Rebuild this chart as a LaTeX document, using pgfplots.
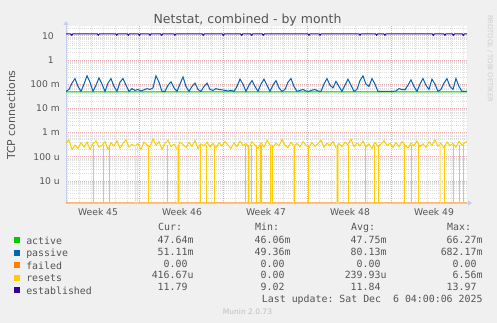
\documentclass[border=0pt]{standalone}
\usepackage{pgfplots}
\pgfplotsset{compat=1.18}
\usepackage{fontspec}
\setmainfont{DejaVu Sans}
\setmonofont{DejaVu Sans Mono}
\usetikzlibrary{arrows.meta}
\definecolor{bgc}{HTML}{F0F0F0}
\definecolor{txt}{HTML}{555555}
\definecolor{cact}{HTML}{00CC00}
\definecolor{cpas}{HTML}{0066B3}
\definecolor{cfail}{HTML}{FF8000}
\definecolor{cres}{HTML}{FFCC00}
\definecolor{cest}{HTML}{330099}
\definecolor{mgrid}{HTML}{E8B0B0}
\definecolor{ngrid}{HTML}{DEDEDE}
\definecolor{axc}{HTML}{C4CCF0}
\newcommand\lf{\ttfamily\fontsize{9.9bp}{11bp}\selectfont}
\newcommand\tf{\fontsize{9.2bp}{10bp}\selectfont}
\begin{document}
\begin{tikzpicture}
\useasboundingbox (0,0) rectangle (497bp,323bp);
\fill[bgc] (0,0) rectangle (497bp,323bp);
\begin{axis}[
  at={(66bp,120bp)}, anchor=south west,
  scale only axis, width=401bp, height=177bp,
  xmin=0, xmax=33.42, ymode=log, ymin=1.22e-6, ymax=25.2,
  log origin y=infty,
  axis background/.style={fill=white},
  axis line style={draw=none},
  tick style={draw=none},
  clip mode=individual,
  xtick={2.67,9.67,16.67,23.67,30.67},
  xticklabels={Week 45,Week 46,Week 47,Week 48,Week 49},
  minor xtick={0.08,1.08,2.08,3.08,4.08,5.08,7.08,8.08,9.08,10.08,11.08,12.08,14.08,15.08,16.08,17.08,18.08,19.08,21.08,22.08,23.08,24.08,25.08,26.08,28.08,29.08,30.08,31.08,32.08,33.08},
  xminorgrids=true, xmajorgrids=false,
  extra x ticks={6.08,13.08,20.08,27.08}, extra x tick labels={},
  extra x tick style={grid=major},
  ytick={1e-5,1e-4,1e-3,1e-2,1e-1,1,10},
  yticklabels={10 u,100 u,1 m,10 m,100 m,1\hspace*{6bp},10\hspace*{6bp}},
  minor ytick={2e-6,3e-6,4e-6,5e-6,6e-6,7e-6,8e-6,9e-6,2e-5,3e-5,4e-5,5e-5,6e-5,7e-5,8e-5,9e-5,2e-4,3e-4,4e-4,5e-4,6e-4,7e-4,8e-4,9e-4,2e-3,3e-3,4e-3,5e-3,6e-3,7e-3,8e-3,9e-3,0.02,0.03,0.04,0.05,0.06,0.07,0.08,0.09,0.2,0.3,0.4,0.5,0.6,0.7,0.8,0.9,2,3,4,5,6,7,8,9,20},
  ymajorgrids=true, yminorgrids=true,
  major grid style={mgrid, dash pattern=on 1bp off 1bp, line width=0.7bp},
  minor grid style={ngrid, dash pattern=on 1bp off 1bp, line width=0.6bp},
  xticklabel style={font=\tf, text=txt, inner sep=0pt, anchor=north, yshift=-5.5bp},
  yticklabel style={font=\tf, text=txt, inner sep=0pt, anchor=east, xshift=-6bp},
  title={Netstat, combined - by month},
  every axis title/.style={at={(axis description cs:0.4526,1.0113)}, anchor=base, font=\fontsize{12.5bp}{14bp}\selectfont, text=txt, inner sep=0pt},
  ylabel={TCP connections},
  every axis y label/.style={at={(axis description cs:-0.137,0.497)}, rotate=90, anchor=center, font=\fontsize{10.9bp}{12bp}\selectfont, text=txt, inner sep=0pt},
  legend style={at={(axis description cs:-0.1297,-0.192)}, anchor=north west, draw=none, fill=none, inner sep=0pt, outer sep=0pt, font=\lf, text=txt, row sep=3.3bp, nodes={inner sep=0pt, text height=6.5bp, text depth=2bp}, /tikz/every odd column/.append style={column sep=6.3bp}},
  legend cell align=left,
  legend image code/.code={\fill[#1, draw=none, opacity=1] (0bp,-1bp) rectangle (6bp,5bp);},
]
\draw[axc, line width=1bp, -{Triangle[length=4bp,width=5bp]}] (rel axis cs:0,0) -- ([yshift=5bp]rel axis cs:0,1);
\draw[axc, line width=1bp, -{Triangle[length=4bp,width=5bp]}] (rel axis cs:0,0) -- ([xshift=5bp]rel axis cs:1,0);

\addplot[cact, line width=1bp] coordinates {(0,0.0476)(4,0.0477)(8,0.0475)(12,0.0477)(16,0.0476)(20,0.0476)(24,0.0477)(28,0.0476)(33.42,0.0476)};
\addlegendentry{active}

\addplot[cpas, line width=1bp] coordinates {(0,0.05)(0.25,0.06)(0.5,0.11)(0.75,0.17)(1,0.08)(1.25,0.05)(1.5,0.1)(1.75,0.22)(2,0.12)(2.25,0.05)(2.5,0.09)(2.75,0.18)(3,0.1)(3.25,0.05)(3.5,0.11)(3.75,0.17)(4,0.08)(4.25,0.05)(4.5,0.12)(4.75,0.17)(5,0.09)(5.25,0.05)(5.5,0.065)(5.75,0.055)(6,0.06)(6.25,0.052)(6.5,0.058)(6.75,0.065)(7,0.06)(7.25,0.07)(7.5,0.22)(7.75,0.12)(8,0.05)(8.25,0.05)(8.5,0.09)(8.75,0.125)(9,0.07)(9.25,0.05)(9.5,0.1)(9.75,0.2)(10,0.08)(10.25,0.05)(10.5,0.08)(10.75,0.11)(11,0.06)(11.25,0.05)(11.5,0.08)(11.75,0.11)(12,0.06)(12.25,0.055)(12.5,0.065)(12.75,0.06)(13,0.058)(13.25,0.055)(13.5,0.052)(13.75,0.055)(14,0.05)(14.25,0.08)(14.5,0.16)(14.75,0.1)(15,0.05)(15.25,0.09)(15.5,0.14)(15.75,0.08)(16,0.05)(16.25,0.1)(16.5,0.16)(16.75,0.09)(17,0.05)(17.25,0.09)(17.5,0.14)(17.75,0.07)(18,0.05)(18.25,0.06)(18.5,0.12)(18.75,0.17)(19,0.08)(19.25,0.05)(19.5,0.055)(19.75,0.06)(20,0.052)(20.25,0.05)(20.5,0.056)(20.75,0.06)(21,0.052)(21.25,0.05)(21.5,0.1)(21.75,0.17)(22,0.09)(22.25,0.07)(22.5,0.13)(22.75,0.08)(23,0.05)(23.25,0.09)(23.5,0.16)(23.75,0.09)(24,0.05)(24.25,0.06)(24.5,0.14)(24.75,0.22)(25,0.1)(25.25,0.08)(25.5,0.17)(25.75,0.1)(26,0.05)(26.25,0.05)(26.5,0.05)(26.75,0.05)(27,0.05)(27.25,0.05)(27.5,0.052)(27.75,0.065)(28,0.06)(28.25,0.058)(28.5,0.09)(28.75,0.15)(29,0.08)(29.25,0.05)(29.5,0.1)(29.75,0.17)(30,0.09)(30.25,0.06)(30.5,0.16)(30.75,0.1)(31,0.05)(31.25,0.06)(31.5,0.11)(31.75,0.17)(32,0.08)(32.25,0.06)(32.5,0.17)(32.75,0.08)(33,0.05)(33.25,0.05)(33.42,0.051)};
\addlegendentry{passive}

\addplot[cfail, opacity=0.55, line width=1bp] coordinates {(0,1.3e-6)(33.42,1.3e-6)};
\addlegendentry{failed}

\addplot[cres, line width=1bp] coordinates {(0,3.5e-4)(0.25,5e-4)(0.5,2e-4)(0.75,3e-4)(1,2.2e-4)(1.25,3.8e-4)(1.5,2.5e-4)(1.75,4e-4)(2,2e-4)(2.25,3.5e-4)(2.5,4.5e-4)(2.75,2.5e-4)(3,3e-4)(3.25,4.2e-4)(3.5,2e-4)(3.75,3.8e-4)(4,2.8e-4)(4.25,4.5e-4)(4.5,2.2e-4)(4.75,3.5e-4)(5,5e-4)(5.25,2.5e-4)(5.5,3.2e-4)(5.75,2.8e-4)(6,3.5e-4)(6.25,2e-4)(6.5,4e-4)(6.75,3e-4)(7,2.5e-4)(7.25,5.5e-4)(7.5,3e-4)(7.75,4.2e-4)(8,2e-4)(8.25,3.6e-4)(8.5,4.8e-4)(8.75,2.6e-4)(9,3.3e-4)(9.25,2.1e-4)(9.5,4e-4)(9.75,3.2e-4)(10,2.4e-4)(10.25,3.9e-4)(10.5,2.7e-4)(10.75,4.6e-4)(11,2.2e-4)(11.25,3.4e-4)(11.5,2.8e-4)(11.75,4e-4)(12,2.5e-4)(12.25,3.6e-4)(12.5,2.3e-4)(12.75,3.8e-4)(13,2.8e-4)(13.25,4.3e-4)(13.5,3e-4)(13.75,2.2e-4)(14,3.7e-4)(14.25,2.6e-4)(14.5,4.4e-4)(14.75,2.9e-4)(15,3.5e-4)(15.25,2.3e-4)(15.5,4.1e-4)(15.75,3e-4)(16,2.2e-4)(16.25,3.8e-4)(16.5,2.5e-4)(16.75,4.7e-4)(17,3.1e-4)(17.25,2.4e-4)(17.5,3.6e-4)(17.75,2.8e-4)(18,5.2e-4)(18.25,3e-4)(18.5,2.4e-4)(18.75,4e-4)(19,2.8e-4)(19.25,3.5e-4)(19.5,2.6e-4)(19.75,4.2e-4)(20,3e-4)(20.25,2.3e-4)(20.5,3.9e-4)(20.75,2.7e-4)(21,3.4e-4)(21.25,4.8e-4)(21.5,2.5e-4)(21.75,3.6e-4)(22,2.9e-4)(22.25,4.3e-4)(22.5,2.4e-4)(22.75,3.5e-4)(23,2.6e-4)(23.25,4e-4)(23.5,3.1e-4)(23.75,5.4e-4)(24,2.6e-4)(24.25,3.7e-4)(24.5,2.8e-4)(24.75,4.4e-4)(25,2.5e-4)(25.25,3.4e-4)(25.5,2.2e-4)(25.75,3.9e-4)(26,2.7e-4)(26.25,3.3e-4)(26.5,4.6e-4)(26.75,2.9e-4)(27,3.6e-4)(27.25,2.4e-4)(27.5,3.8e-4)(27.75,2.6e-4)(28,4.2e-4)(28.25,3e-4)(28.5,2.3e-4)(28.75,3.7e-4)(29,2.8e-4)(29.25,4.5e-4)(29.5,2.6e-4)(29.75,3.4e-4)(30,2.4e-4)(30.25,4.1e-4)(30.5,3e-4)(30.75,5e-4)(31,2.7e-4)(31.25,3.6e-4)(31.5,2.3e-4)(31.75,4e-4)(32,2.9e-4)(32.25,3.5e-4)(32.5,2.5e-4)(32.75,4.3e-4)(33,3e-4)(33.25,3.8e-4)(33.42,4.2e-4)};
\addlegendentry{resets}

\addplot[cres, ycomb, line width=1bp, forget plot] coordinates {(2.28,3e-4)(3.11,3e-4)(3.61,3e-4)(5.92,3e-4)(6.86,3e-4)(8.44,3e-4)(9.36,3e-4)(11.17,3e-4)(11.72,3e-4)(12.38,3e-4)(14.92,3e-4)(15.19,3e-4)(15.47,3e-4)(15.89,3e-4)(16.17,3e-4)(16.33,3e-4)(17.06,3e-4)(17.21,3e-4)(18.94,3e-4)(19.08,3e-4)(20.19,3e-4)(22.63,3e-4)(23.53,3e-4)(24.92,3e-4)(25.75,3e-4)(26.03,3e-4)(28.25,3e-4)(28.81,3e-4)(29.36,3e-4)(31.17,3e-4)(31.58,3e-4)(32.28,3e-4)(32.83,3e-4)(33.11,3e-4)};
\addplot[cres!45, ycomb, line width=1bp, forget plot] coordinates {(5.8,3e-4)(6.0,3e-4)(9.28,3e-4)(9.44,3e-4)(17.13,3e-4)(22.55,3e-4)(22.71,3e-4)(19.0,3e-4)(31.25,3e-4)(15.3,3e-4)};

\addplot[cest, line width=1bp] coordinates {(0,11.8)(0.4,11.8)(0.48,10.4)(0.56,11.8)(2.61,11.8)(2.69,10.4)(2.77,11.8)(4.15,11.8)(4.23,10.4)(4.31,11.8)(5.11,11.8)(5.19,10.4)(5.27,11.8)(6.03,11.8)(6.11,10.4)(6.19,11.8)(6.92,11.8)(7.0,10.4)(7.08,11.8)(7.89,11.8)(7.97,10.4)(8.05,11.8)(9.0,11.8)(9.08,10.4)(9.16,11.8)(11.36,11.8)(11.44,10.4)(11.52,11.8)(13.03,11.8)(13.11,10.4)(13.19,11.8)(14.56,11.8)(14.64,10.4)(14.72,11.8)(15.39,11.8)(15.47,10.4)(15.55,11.8)(16.36,11.8)(16.44,10.4)(16.52,11.8)(20.17,11.8)(20.25,10.4)(20.33,11.8)(21.09,11.8)(21.17,10.4)(21.25,11.8)(24.42,11.8)(24.5,10.4)(24.58,11.8)(25.81,11.8)(25.89,10.4)(25.97,11.8)(26.5,11.8)(26.58,10.4)(26.66,11.8)(30.53,11.8)(30.61,10.4)(30.69,11.8)(31.5,11.8)(31.58,10.4)(31.66,11.8)(32.2,11.8)(32.28,10.4)(32.36,11.8)(33.03,11.8)(33.11,10.4)(33.19,11.8)(33.42,11.79)};
\addlegendentry{established}
\end{axis}

\begin{scope}[every node/.style={font=\lf, text=txt, inner sep=0pt}]
\node[anchor=base west] at (158bp,92.4bp) {Cur:};
\node[anchor=base west] at (255bp,92.4bp) {Min:};
\node[anchor=base west] at (351bp,92.4bp) {Avg:};
\node[anchor=base west] at (447bp,92.4bp) {Max:};
% active
\node[anchor=base east] at (193.7bp,79.5bp) {47.64m};
\node[anchor=base east] at (290.7bp,79.5bp) {46.06m};
\node[anchor=base east] at (386.7bp,79.5bp) {47.75m};
\node[anchor=base east] at (482.7bp,79.5bp) {66.27m};
% passive
\node[anchor=base east] at (193.7bp,67.7bp) {51.11m};
\node[anchor=base east] at (290.7bp,67.7bp) {49.36m};
\node[anchor=base east] at (386.7bp,67.7bp) {80.13m};
\node[anchor=base east] at (482.7bp,67.7bp) {682.17m};
% failed
\node[anchor=base east] at (193.7bp,55.9bp) {0.00\phantom{m}};
\node[anchor=base east] at (290.7bp,55.9bp) {0.00\phantom{m}};
\node[anchor=base east] at (386.7bp,55.9bp) {0.00\phantom{m}};
\node[anchor=base east] at (482.7bp,55.9bp) {0.00\phantom{m}};
% resets
\node[anchor=base east] at (193.7bp,44bp) {416.67u};
\node[anchor=base east] at (290.7bp,44bp) {0.00\phantom{m}};
\node[anchor=base east] at (386.7bp,44bp) {239.93u};
\node[anchor=base east] at (482.7bp,44bp) {6.56m};
% established
\node[anchor=base east] at (193.7bp,32.2bp) {11.79\phantom{m}};
\node[anchor=base east] at (290.7bp,32.2bp) {9.02\phantom{m}};
\node[anchor=base east] at (386.7bp,32.2bp) {11.84\phantom{m}};
\node[anchor=base east] at (482.7bp,32.2bp) {13.97\phantom{m}};
\node[anchor=base east] at (482.7bp,20.4bp) {Last update: Sat Dec~~6 04:00:06 2025};
\end{scope}
\node[font=\fontsize{7.5bp}{9bp}\selectfont, text={rgb,255:red,190;green,190;blue,190}, inner sep=0pt] at (247.5bp,11.3bp) {Munin 2.0.73};
\node[rotate=-90, font=\fontsize{6.75bp}{8bp}\selectfont, text={rgb,255:red,205;green,205;blue,205}, inner sep=0pt] at (490bp,264.5bp) {RRDTOOL / TOBI OETIKER};
\end{tikzpicture}
\end{document}
